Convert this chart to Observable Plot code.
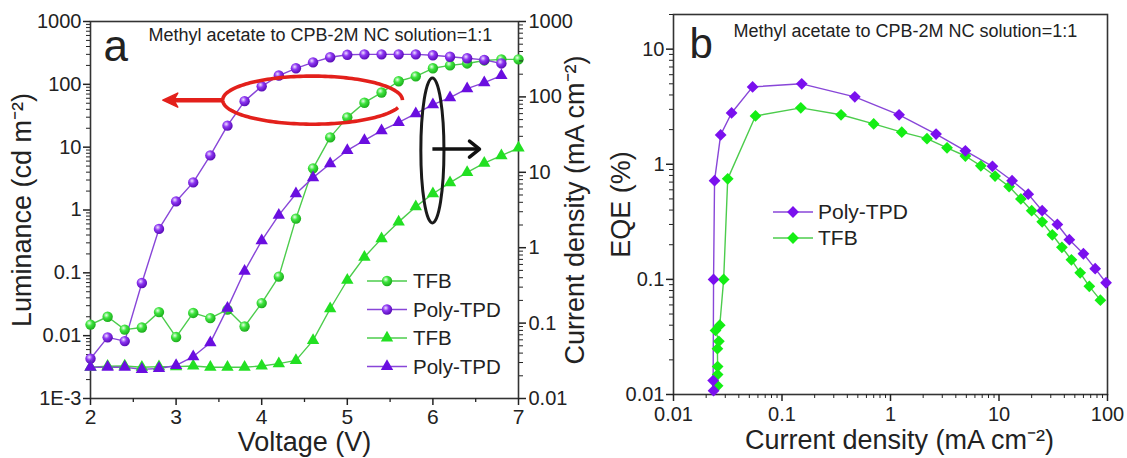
<!DOCTYPE html>
<html><head><meta charset="utf-8">
<script src="https://cdn.jsdelivr.net/npm/d3@7"></script>
<script src="https://cdn.jsdelivr.net/npm/@observablehq/plot@0.6"></script>
<style>
body{margin:0;background:#fff;}
#wrap{position:relative;width:1127px;height:458px;overflow:hidden;background:#fff;}
#wrap svg{position:absolute;top:0;overflow:visible;background:transparent}
</style></head><body>
<svg width="0" height="0" style="position:absolute">
<defs>
<radialGradient id="ballP" cx="0.38" cy="0.35" r="0.7"><stop offset="0" stop-color="#efe2ff"/><stop offset="0.4" stop-color="#8d36f2"/><stop offset="1" stop-color="#5206b0"/></radialGradient>
<radialGradient id="ballG" cx="0.38" cy="0.35" r="0.7"><stop offset="0" stop-color="#eaffea"/><stop offset="0.4" stop-color="#3ee43e"/><stop offset="1" stop-color="#18a818"/></radialGradient>
</defs></svg>
<div id="wrap"></div>
<script>
// ---------- data: panel a ----------
const voltage = [2.0,2.2,2.4,2.6,2.8,3.0,3.2,3.4,3.6,3.8,4.0,4.2,4.4,4.6,4.8,5.0,5.2,5.4,5.6,5.8,6.0,6.2,6.4,6.6,6.8,7.0];
const lumTFB  = [0.015,0.020,0.0125,0.0135,0.0237,0.0095,0.023,0.019,0.026,0.014,0.033,0.087,0.73,4.6,14.3,29.8,51,74,112,134,180,200,215,240,250,250];
const lumPoly = [0.0043,0.0094,0.0082,0.069,0.50,1.37,2.75,7.4,22,54,93,138,180,224,270,295,300,300,300,300,290,275,260,245,215,null];
const jTFB    = [0.026,0.0268,0.027,0.026,0.0265,0.0265,0.027,0.026,0.026,0.026,0.027,0.029,0.032,0.059,0.155,0.37,0.75,1.32,2.2,3.5,5.2,7.3,10,13.2,16.6,21];
const jPoly   = [0.026,0.026,0.026,0.0243,0.025,0.0274,0.036,0.055,0.158,0.49,1.24,2.7,5.2,8.5,13,19.5,26.5,35.7,46,60,79,98,129,155,192,null];

// ---------- data: panel b ----------
const eqeJPoly = [0.0234,0.0232,0.0234,0.0239,0.0272,0.0343,0.0536,0.152,0.469,1.2,2.63,4.9,8.7,13.2,18.6,25,34.5,44.5,60,77,97];
const eqePoly  = [0.0108,0.0132,0.1,0.72,1.8,2.79,4.7,5.0,3.85,2.69,1.83,1.31,0.96,0.72,0.55,0.395,0.30,0.221,0.167,0.124,0.0935];
const eqeJTFB  = [0.0255,0.0255,0.0255,0.0254,0.0262,0.0244,0.0267,0.029,0.0316,0.057,0.149,0.35,0.70,1.27,2.17,3.32,4.9,6.8,9.2,12.4,15.9,20,25,31,38,46.5,56,68,86];
const eqeTFB   = [0.0119,0.0149,0.0175,0.025,0.029,0.036,0.040,0.1,0.747,2.63,3.09,2.69,2.24,1.90,1.67,1.39,1.18,0.97,0.79,0.64,0.50,0.395,0.316,0.244,0.19,0.148,0.114,0.087,0.066];

// ---------- ticks & labels ----------
const voltTicks = [2,3,4,5,6,7];
const voltMinor = [2.5,3.5,4.5,5.5,6.5];
const lumTicks = [0.001,0.01,0.1,1,10,100,1000];
const lumLabels = ["1E-3","0.01","0.1","1","10","100","1000"];
const jTicks = [0.01,0.1,1,10,100,1000];
const jLabels = ["0.01","0.1","1","10","100","1000"];
const eqeXTicks = [0.01,0.1,1,10,100];
const eqeXLabels = ["0.01","0.1","1","10","100"];
const eqeYTicks = [0.01,0.1,1,10];
const eqeYLabels = ["0.01","0.1","1","10"];
const seriesNames = ["TFB","Poly-TPD"];
const noteText = "Methyl acetate to CPB-2M NC solution=1:1";

function logMinor(lo, hi){ const out=[]; for(let e=Math.floor(Math.log10(lo)); e<=Math.ceil(Math.log10(hi)); e++){ for(let k=2;k<=9;k++){ const v=k*Math.pow(10,e); if(v>lo && v<=hi*1.0001) out.push(v);} } return out; }

const FONT = '"Liberation Sans", Arial, Helvetica, sans-serif';
const lG = "#4ccc4c", lP = "#8846d8";
const triG = "#22e022", triP = "#6a0ee0", diaG = "#14ee14", diaP = "#7a10ee";
const TITLE = 27;

const rows = (xs, ys) => xs.map((x,i)=>({x, y: ys[i]})).filter(d=>d.y!=null);
const fmt = (ticks, labels) => d => labels[ticks.indexOf(d)];
const T = {text: d => d, lineAnchor: "middle"};

const wrap = document.getElementById("wrap");
const H = 458;
const baseStyle = {fontFamily: FONT, fontSize: "20px", color: "#222", background: "transparent", overflow: "visible"};

// ---------- panel a : luminance ----------
const marginsA = {marginLeft: 90, marginRight: 82, marginTop: 21, marginBottom: 60};
const lT = rows(voltage, lumTFB), lPo = rows(voltage, lumPoly);
const pa = Plot.plot({
  width: 600, height: H, ...marginsA, style: baseStyle,
  x: {domain: [2, 7]},
  y: {type: "log", domain: [1e-3, 1000]},
  marks: [
    Plot.frame({stroke: "#333", strokeWidth: 1.6}),
    Plot.axisX(voltTicks, {tickSize: 7, tickPadding: 4, tickFormat: d => String(d), label: null, strokeWidth: 1.5, fontSize: 21}),
    Plot.axisX(voltMinor, {tickSize: 4, tickFormat: () => "", label: null, strokeWidth: 1.3}),
    Plot.axisY(lumTicks, {tickSize: 7, tickPadding: 2, tickFormat: fmt(lumTicks, lumLabels), label: null, strokeWidth: 1.5, fontSize: 20}),
    Plot.axisY(logMinor(1e-3, 1000), {tickSize: 4, tickFormat: () => "", label: null, strokeWidth: 1}),
    Plot.line(lT, {x: "x", y: "y", stroke: lG, strokeWidth: 1.4}),
    Plot.line(lPo, {x: "x", y: "y", stroke: lP, strokeWidth: 1.4}),
    Plot.dot(lT, {x: "x", y: "y", r: 5.2, fill: "url(#ballG)"}),
    Plot.dot(lPo, {x: "x", y: "y", r: 5.2, fill: "url(#ballP)"}),
    Plot.text(["Voltage (V)"], {...T, frameAnchor: "bottom", textAnchor: "middle", dy: 43.5, fontSize: TITLE}),
    Plot.text(["Luminance (cd m\u207B\u00B2)"], {...T, frameAnchor: "left", textAnchor: "middle", dx: -68, rotate: -90, fontSize: TITLE}),
    Plot.text(["a"], {...T, frameAnchor: "top-left", textAnchor: "start", dx: 13, dy: 25, fontSize: 44}),
    Plot.text([noteText], {...T, frameAnchor: "top-left", textAnchor: "start", dx: 58, dy: 14, fontSize: 18})
  ]
});
pa.style.left = "0px";
wrap.appendChild(pa);

// ---------- panel a : current density (right axis) ----------
const jT = rows(voltage, jTFB), jPo = rows(voltage, jPoly);
const pj = Plot.plot({
  width: 600, height: H, ...marginsA, style: baseStyle,
  x: {domain: [2, 7], axis: null},
  y: {type: "log", domain: [0.01, 1000]},
  marks: [
    Plot.axisY(jTicks, {anchor: "right", tickSize: 7, tickPadding: 3, tickFormat: fmt(jTicks, jLabels), label: null, strokeWidth: 1.5, fontSize: 20}),
    Plot.axisY(logMinor(0.01, 1000), {anchor: "right", tickSize: 4, tickFormat: () => "", label: null, strokeWidth: 1}),
    Plot.line(jT, {x: "x", y: "y", stroke: lG, strokeWidth: 1.4}),
    Plot.line(jPo, {x: "x", y: "y", stroke: lP, strokeWidth: 1.4}),
    Plot.dot(jT, {x: "x", y: "y", r: 4.6, symbol: "triangle", fill: triG}),
    Plot.dot(jPo, {x: "x", y: "y", r: 4.6, symbol: "triangle", fill: triP}),
    Plot.text(["Current density (mA cm\u207B\u00B2)"], {...T, frameAnchor: "right", textAnchor: "middle", dx: 57, rotate: -90, fontSize: TITLE})
  ]
});
pj.style.left = "0px";
wrap.appendChild(pj);

// annotations (data coordinates -> library scales)
(function(){
  const xs = pj.scale("x"), yL = pa.scale("y"), yJ = pj.scale("y");
  const svg = d3.select(pj);
  const g = svg.append("g").attr("fill", "none");
  const redE = {v0: 3.55, v1: 5.65, lTop: 134, lBot: 23, lMid: 55};
  const cx = (xs.apply(redE.v0) + xs.apply(redE.v1)) / 2, rx = (xs.apply(redE.v1) - xs.apply(redE.v0)) / 2;
  const cy = yL.apply(redE.lMid), ry = (yL.apply(redE.lBot) - yL.apply(redE.lTop)) / 2;
  const pts = d3.range(0, 344, 2).map(a => { const t = -a * Math.PI / 180; return [cx + rx * Math.cos(t), cy + ry * Math.sin(t)]; });
  g.append("path").attr("d", d3.line()(pts)).attr("stroke", "#e3201b").attr("stroke-width", 3.6);
  const ax0 = xs.apply(redE.v0), ax1 = xs.apply(2.85);
  g.append("line").attr("x1", ax0).attr("x2", ax1 + 10).attr("y1", cy).attr("y2", cy).attr("stroke", "#e3201b").attr("stroke-width", 4.5);
  g.append("path").attr("d", `M${ax1},${cy} L${ax1 + 15},${cy - 7} L${ax1 + 11},${cy} L${ax1 + 15},${cy + 7} Z`).attr("fill", "#e3201b").attr("stroke", "#e3201b").attr("stroke-width", 1.5).attr("stroke-linejoin", "round");
  const blk = {v: 6.0, dv: 0.135, jTop: 175, jBot: 2.1, jArrow: 20, vArrow: 6.55};
  const bx = xs.apply(blk.v), brx = xs.apply(blk.v + blk.dv) - bx;
  const by = (yJ.apply(blk.jTop) + yJ.apply(blk.jBot)) / 2, bry = (yJ.apply(blk.jBot) - yJ.apply(blk.jTop)) / 2;
  g.append("ellipse").attr("cx", bx).attr("cy", by).attr("rx", brx).attr("ry", bry).attr("stroke", "#1a1a1a").attr("stroke-width", 3);
  const ay = yJ.apply(blk.jArrow), axe = xs.apply(blk.vArrow);
  g.append("line").attr("x1", bx).attr("x2", axe).attr("y1", ay).attr("y2", ay).attr("stroke", "#111").attr("stroke-width", 3.5);
  g.append("path").attr("d", `M${axe - 10},${ay - 8} L${axe},${ay} L${axe - 10},${ay + 8}`).attr("stroke", "#111").attr("stroke-width", 3.5).attr("stroke-linecap", "round").attr("stroke-linejoin", "round");

  const leg = svg.append("g").attr("font-family", FONT).attr("font-size", 20.5).attr("fill", "#222").attr("text-anchor", "start");
  const entries = [
    {name: seriesNames[0], kind: "ball", fill: "url(#ballG)", line: lG},
    {name: seriesNames[1], kind: "ball", fill: "url(#ballP)", line: lP},
    {name: seriesNames[0], kind: "tri", fill: triG, line: lG},
    {name: seriesNames[1], kind: "tri", fill: triP, line: lP}
  ];
  entries.forEach((e, i) => {
    const y = 281 + i * 28.5;
    leg.append("line").attr("x1", 367).attr("x2", 407).attr("y1", y).attr("y2", y).attr("stroke", e.line).attr("stroke-width", 1.5);
    if (e.kind === "ball") leg.append("circle").attr("cx", 387).attr("cy", y).attr("r", 5.2).attr("fill", e.fill);
    else leg.append("path").attr("transform", `translate(387,${y})`).attr("d", d3.symbol(d3.symbolTriangle, Math.PI * 4.6 * 4.6)()).attr("fill", e.fill);
    leg.append("text").attr("x", 413).attr("y", y).attr("dy", "0.35em").text(e.name);
  });
})();

// ---------- panel b : EQE ----------
const bP = rows(eqeJPoly, eqePoly), bT = rows(eqeJTFB, eqeTFB);
const pb = Plot.plot({
  width: 537, height: H, marginLeft: 83, marginRight: 20, marginTop: 14, marginBottom: 64, style: baseStyle,
  x: {type: "log", domain: [0.01, 100]},
  y: {type: "log", domain: [0.01, 20]},
  marks: [
    Plot.frame({stroke: "#333", strokeWidth: 1.6}),
    Plot.axisX(eqeXTicks, {tickSize: 7, tickPadding: 5, tickFormat: fmt(eqeXTicks, eqeXLabels), label: null, strokeWidth: 1.5, fontSize: 20}),
    Plot.axisX(logMinor(0.01, 100), {tickSize: 4, tickFormat: () => "", label: null, strokeWidth: 1}),
    Plot.axisY(eqeYTicks, {tickSize: 7, tickPadding: 2, tickFormat: fmt(eqeYTicks, eqeYLabels), label: null, strokeWidth: 1.5, fontSize: 20}),
    Plot.axisY(logMinor(0.01, 20), {tickSize: 4, tickFormat: () => "", label: null, strokeWidth: 1}),
    Plot.line(bT, {x: "x", y: "y", stroke: lG, strokeWidth: 1.4}),
    Plot.line(bP, {x: "x", y: "y", stroke: lP, strokeWidth: 1.4}),
    Plot.dot(bT, {x: "x", y: "y", r: 5.3, symbol: "diamond2", fill: diaG}),
    Plot.dot(bP, {x: "x", y: "y", r: 5.3, symbol: "diamond2", fill: diaP}),
    Plot.text(["Current density (mA cm\u207B\u00B2)"], {...T, frameAnchor: "bottom", textAnchor: "middle", dx: 9, dy: 46, fontSize: TITLE}),
    Plot.text(["EQE (%)"], {...T, frameAnchor: "left", textAnchor: "middle", dx: -52, rotate: -90, fontSize: TITLE}),
    Plot.text(["b"], {...T, frameAnchor: "top-left", textAnchor: "start", dx: 16, dy: 30, fontSize: 42}),
    Plot.text([noteText], {...T, frameAnchor: "top-left", textAnchor: "start", dx: 60, dy: 17, fontSize: 18})
  ]
});
pb.style.left = "590px";
wrap.appendChild(pb);

(function(){
  const svg = d3.select(pb);
  const leg = svg.append("g").attr("font-family", FONT).attr("font-size", 21).attr("fill", "#222").attr("text-anchor", "start");
  const entries = [{name: seriesNames[1], fill: diaP, line: lP}, {name: seriesNames[0], fill: diaG, line: lG}];
  entries.forEach((e, i) => {
    const y = 212 + i * 26;
    leg.append("line").attr("x1", 183).attr("x2", 223).attr("y1", y).attr("y2", y).attr("stroke", e.line).attr("stroke-width", 1.5);
    leg.append("path").attr("transform", `translate(203,${y})`).attr("d", d3.symbol(d3.symbolDiamond2, Math.PI * 5.3 * 5.3)()).attr("fill", e.fill);
    leg.append("text").attr("x", 228).attr("y", y).attr("dy", "0.35em").text(e.name);
  });
})();
</script>
</body></html>
